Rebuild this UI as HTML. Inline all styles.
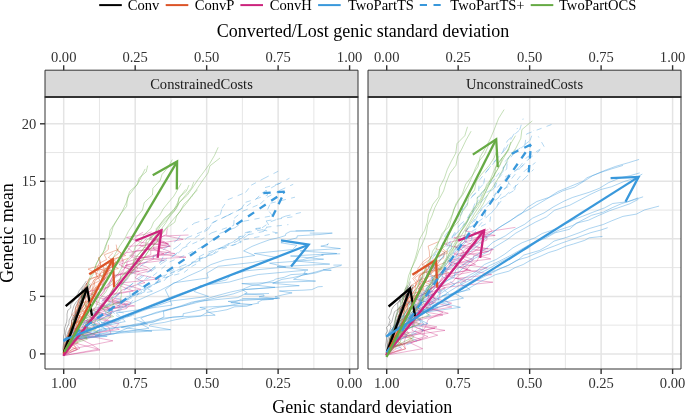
<!DOCTYPE html>
<html><head><meta charset="utf-8"><title>chart</title>
<style>html,body{margin:0;padding:0;background:#fff;}svg{display:block;will-change:transform;font-family:"Liberation Serif",serif;}</style>
</head><body>
<svg width="685" height="414" viewBox="0 0 685 414">
<rect width="685" height="414" fill="#fff"/>
<g>
<rect x="45.0" y="97.0" width="313.0" height="272.0" fill="#fff"/>
<line x1="313.86" x2="313.86" y1="97.0" y2="369.0" stroke="#e6e6e6" stroke-width="1.0"/>
<line x1="242.39" x2="242.39" y1="97.0" y2="369.0" stroke="#e6e6e6" stroke-width="1.0"/>
<line x1="170.91" x2="170.91" y1="97.0" y2="369.0" stroke="#e6e6e6" stroke-width="1.0"/>
<line x1="99.44" x2="99.44" y1="97.0" y2="369.0" stroke="#e6e6e6" stroke-width="1.0"/>
<line x1="45.0" x2="358.0" y1="325.14" y2="325.14" stroke="#e6e6e6" stroke-width="1.0"/>
<line x1="45.0" x2="358.0" y1="267.61" y2="267.61" stroke="#e6e6e6" stroke-width="1.0"/>
<line x1="45.0" x2="358.0" y1="210.09" y2="210.09" stroke="#e6e6e6" stroke-width="1.0"/>
<line x1="45.0" x2="358.0" y1="152.56" y2="152.56" stroke="#e6e6e6" stroke-width="1.0"/>
<line x1="349.60" x2="349.60" y1="97.0" y2="369.0" stroke="#e4e4e4" stroke-width="1.5"/>
<line x1="278.12" x2="278.12" y1="97.0" y2="369.0" stroke="#e4e4e4" stroke-width="1.5"/>
<line x1="206.65" x2="206.65" y1="97.0" y2="369.0" stroke="#e4e4e4" stroke-width="1.5"/>
<line x1="135.18" x2="135.18" y1="97.0" y2="369.0" stroke="#e4e4e4" stroke-width="1.5"/>
<line x1="63.70" x2="63.70" y1="97.0" y2="369.0" stroke="#e4e4e4" stroke-width="1.5"/>
<line x1="45.0" x2="358.0" y1="353.90" y2="353.90" stroke="#e4e4e4" stroke-width="1.5"/>
<line x1="45.0" x2="358.0" y1="296.38" y2="296.38" stroke="#e4e4e4" stroke-width="1.5"/>
<line x1="45.0" x2="358.0" y1="238.85" y2="238.85" stroke="#e4e4e4" stroke-width="1.5"/>
<line x1="45.0" x2="358.0" y1="181.32" y2="181.32" stroke="#e4e4e4" stroke-width="1.5"/>
<line x1="45.0" x2="358.0" y1="123.80" y2="123.80" stroke="#e4e4e4" stroke-width="1.5"/>
<clipPath id="cp0"><rect x="45.0" y="97.0" width="313.0" height="272.0"/></clipPath>
<g clip-path="url(#cp0)">
<path d="M63.7,353.0L62.8,348.9L63.4,344.1L63.7,341.6L63.5,336.6L64.6,332.6L64.5,328.9L65.6,325.1L66.7,321.7L67.1,317.8L67.0,314.2L67.8,310.3L70.8,307.9L70.7,304.8L74.6,300.2L75.5,297.0L77.8,293.9L79.3,290.5L81.2,288.2L84.6,283.6L86.4,280.9" fill="none" stroke="#000000" stroke-opacity="0.42" stroke-width="0.7" stroke-linejoin="round"/>
<path d="M63.7,353.0L64.1,350.5L66.1,346.0L67.2,343.3L68.1,340.1L70.0,337.2L69.9,334.1L70.0,330.3L71.9,327.2L73.3,324.0L75.5,321.6L75.4,317.9L75.8,315.1L78.3,310.8L79.8,308.6L81.0,305.4L82.8,302.1L83.4,298.8L86.4,297.0L88.2,293.9L87.5,290.7" fill="none" stroke="#000000" stroke-opacity="0.42" stroke-width="0.7" stroke-linejoin="round"/>
<path d="M63.7,353.0L65.1,349.7L64.4,346.5L66.4,343.6L66.9,340.6L68.0,336.7L69.5,333.6L70.9,330.8L70.7,328.2L73.1,324.2L73.9,320.5L74.0,317.6L75.6,314.9L76.5,312.7L78.4,308.5L80.7,306.2L81.4,302.2L81.2,298.7L82.2,295.5L83.6,293.8L84.9,290.1" fill="none" stroke="#000000" stroke-opacity="0.42" stroke-width="0.7" stroke-linejoin="round"/>
<path d="M63.7,353.0L65.1,349.8L66.0,346.3L66.7,344.3L67.1,341.3L68.5,337.4L70.0,333.7L71.2,331.5L71.2,327.3L73.0,324.3L74.5,321.3L74.2,317.4L77.4,314.2L78.0,312.0L79.1,309.1L79.6,305.2L83.2,302.8L83.2,299.0L82.1,296.3L86.0,293.1L85.7,290.0" fill="none" stroke="#000000" stroke-opacity="0.42" stroke-width="0.7" stroke-linejoin="round"/>
<path d="M63.7,353.0L65.3,349.2L66.0,346.0L65.8,342.9L68.6,338.7L70.0,336.5L71.7,331.6L71.3,328.7L72.7,325.6L74.6,321.6L76.4,318.7L77.1,314.7L78.8,312.5L81.0,308.7L82.9,304.9L82.3,302.0L83.5,298.9L86.0,294.7L86.4,291.6L90.1,287.3L91.3,285.4" fill="none" stroke="#000000" stroke-opacity="0.42" stroke-width="0.7" stroke-linejoin="round"/>
<path d="M63.7,353.0L64.1,349.1L64.0,344.1L64.4,341.4L65.4,337.3L65.5,333.8L66.1,330.2L67.2,327.2L68.9,323.8L69.1,320.1L71.6,315.3L72.0,312.5L72.9,309.0L74.3,304.9L76.1,302.2L79.1,298.9L78.9,295.1L81.5,292.4L82.2,288.3L84.8,285.7L87.4,282.5" fill="none" stroke="#000000" stroke-opacity="0.42" stroke-width="0.7" stroke-linejoin="round"/>
<path d="M63.7,353.0L63.9,350.0L64.7,344.4L66.2,342.9L66.5,338.5L67.0,334.7L68.1,331.7L70.0,328.0L71.4,324.5L71.6,320.7L73.1,316.3L75.1,312.9L75.1,310.1L75.8,306.7L78.1,301.8L79.4,299.9L81.3,296.3L83.4,292.6L82.2,289.8L87.7,286.3L86.2,283.0" fill="none" stroke="#000000" stroke-opacity="0.42" stroke-width="0.7" stroke-linejoin="round"/>
<path d="M63.7,353.0L64.9,348.6L65.8,345.7L66.2,341.7L66.2,337.9L67.8,336.7L68.8,332.0L70.5,328.6L71.5,325.0L71.8,320.1L75.0,318.8L75.1,314.4L76.4,311.4L78.6,308.0L78.2,304.4L80.9,301.3L81.3,299.0L83.0,293.9L84.5,291.4L85.1,287.4L87.7,285.2" fill="none" stroke="#000000" stroke-opacity="0.42" stroke-width="0.7" stroke-linejoin="round"/>
<path d="M63.7,353.0L65.0,349.1L65.7,346.1L66.6,342.0L68.5,338.0L69.9,335.7L70.3,332.2L72.1,328.7L73.9,324.8L75.7,321.9L75.0,317.9L76.7,315.6L78.6,311.4L78.8,307.3L80.7,304.5L80.6,300.8L84.7,297.1L85.0,293.6L86.9,291.2L87.7,287.5L90.1,283.6" fill="none" stroke="#000000" stroke-opacity="0.42" stroke-width="0.7" stroke-linejoin="round"/>
<path d="M63.7,353.0L65.4,349.7L66.1,346.2L67.2,343.1L66.7,340.3L68.2,336.3L69.5,332.8L70.2,329.9L72.5,326.8L73.3,322.9L73.7,318.8L75.2,315.9L76.5,312.3L78.4,309.0L80.1,305.9L79.2,301.9L82.4,299.5L81.4,295.6L82.5,292.5L84.2,290.2L86.6,286.3" fill="none" stroke="#000000" stroke-opacity="0.42" stroke-width="0.7" stroke-linejoin="round"/>
<path d="M63.6,354.0L64.2,348.4L66.2,342.0L68.0,336.1L70.9,330.2L72.6,324.0L84.6,318.6L75.1,312.9L75.5,307.7L79.4,300.6L81.0,295.4L85.4,290.5L87.2,283.6L88.8,280.1L100.4,275.0L88.0,269.1L100.8,265.1L98.4,258.3L102.9,254.2L108.3,249.5L108.4,244.8" fill="none" stroke="#DC5428" stroke-opacity="0.55" stroke-width="0.7" stroke-linejoin="round"/>
<path d="M63.6,354.0L66.1,347.9L78.3,342.9L68.3,336.3L69.1,330.9L72.2,324.6L85.2,319.7L71.7,314.8L77.3,309.3L78.9,304.2L92.3,299.2L83.7,293.7L84.0,288.3L87.2,283.0L88.7,278.9L110.9,273.0L96.8,268.0L99.1,263.4L106.7,259.5L104.3,254.8L118.4,249.4" fill="none" stroke="#DC5428" stroke-opacity="0.55" stroke-width="0.7" stroke-linejoin="round"/>
<path d="M63.6,354.0L77.2,349.4L67.3,344.9L69.1,338.1L77.6,334.5L73.1,329.4L71.5,323.9L78.6,320.2L79.2,315.7L86.0,310.8L85.0,307.6L86.9,302.1L95.7,297.7L91.7,293.2L94.7,288.9L99.2,285.2L101.9,281.3L107.7,276.4L107.5,272.8L110.2,269.3L105.4,264.6" fill="none" stroke="#DC5428" stroke-opacity="0.55" stroke-width="0.7" stroke-linejoin="round"/>
<path d="M63.6,354.0L65.1,348.9L72.2,342.5L67.2,339.3L72.3,332.9L70.7,327.5L71.9,323.0L75.8,318.6L78.6,312.9L75.5,308.6L81.3,303.3L82.1,298.9L85.0,293.7L89.9,289.3L90.7,285.1L100.0,280.6L95.8,274.4L98.1,270.6L100.5,266.5L100.5,261.6L98.5,257.0" fill="none" stroke="#DC5428" stroke-opacity="0.55" stroke-width="0.7" stroke-linejoin="round"/>
<path d="M63.6,354.0L66.7,347.3L67.2,342.8L69.2,337.9L88.3,332.9L72.5,327.7L76.9,321.3L79.6,317.0L78.2,311.7L83.5,306.6L85.6,301.5L89.6,296.1L94.4,291.6L96.1,286.4L101.6,281.9L106.6,276.5L103.6,272.1L118.4,268.5L107.1,262.7L112.3,258.4L118.7,253.2" fill="none" stroke="#DC5428" stroke-opacity="0.55" stroke-width="0.7" stroke-linejoin="round"/>
<path d="M63.6,354.0L65.5,349.9L66.7,342.4L70.9,338.6L70.3,333.2L69.5,328.3L75.2,323.8L82.3,317.9L76.5,313.8L88.2,309.1L84.3,303.8L82.9,300.0L91.5,294.5L92.8,289.5L93.0,285.1L95.3,280.7L99.1,277.3L101.3,271.5L107.5,268.2L111.0,264.2L128.3,258.3" fill="none" stroke="#DC5428" stroke-opacity="0.55" stroke-width="0.7" stroke-linejoin="round"/>
<path d="M63.6,354.0L63.7,347.5L64.4,343.3L66.4,337.4L69.7,332.1L72.4,326.6L71.6,320.7L74.0,316.0L77.0,310.2L77.6,304.6L78.7,299.4L81.6,295.4L86.3,290.8L91.4,284.5L93.6,280.5L97.4,276.3L94.8,271.0L113.3,266.8L115.8,261.3L108.3,257.4L112.9,252.9" fill="none" stroke="#DC5428" stroke-opacity="0.55" stroke-width="0.7" stroke-linejoin="round"/>
<path d="M63.6,354.0L65.9,347.7L67.3,342.2L67.4,335.7L75.2,330.5L74.8,324.0L75.0,318.3L79.6,313.3L82.5,307.2L85.4,302.2L85.4,296.3L90.1,290.9L94.8,285.8L93.7,280.2L103.2,275.9L104.2,270.7L103.2,264.9L110.5,259.7L125.7,255.5L117.3,250.9L116.2,244.6" fill="none" stroke="#DC5428" stroke-opacity="0.55" stroke-width="0.7" stroke-linejoin="round"/>
<path d="M63.6,354.0L75.9,347.8L70.6,342.3L80.0,336.2L71.1,331.7L75.9,325.6L78.3,319.6L85.9,314.5L81.7,309.1L85.2,303.5L91.2,297.9L92.3,293.2L98.0,287.4L98.6,283.1L105.0,278.8L103.4,272.6L105.7,268.3L116.6,262.3L119.9,257.5L120.8,253.1L116.6,248.3" fill="none" stroke="#DC5428" stroke-opacity="0.55" stroke-width="0.7" stroke-linejoin="round"/>
<path d="M63.6,354.0L71.1,348.1L65.8,342.8L70.3,337.5L71.0,332.4L76.5,327.7L76.2,321.7L79.0,317.3L81.6,312.2L84.7,307.8L88.2,302.9L88.3,297.9L88.9,292.6L95.1,287.8L103.6,283.7L104.3,278.8L99.3,274.1L107.9,269.4L115.2,264.8L112.5,260.9L121.0,255.9" fill="none" stroke="#DC5428" stroke-opacity="0.55" stroke-width="0.7" stroke-linejoin="round"/>
<path d="M63.3,355.6L98.4,349.2L70.2,341.8L99.2,335.7L74.6,328.9L82.2,322.8L110.0,316.1L112.4,309.3L95.9,304.0L97.7,297.8L104.1,292.4L105.6,286.9L109.6,282.1L113.3,275.9L139.4,271.5L121.4,266.8L123.5,261.0L121.7,256.8L126.2,252.7L150.0,249.4L139.4,245.2L143.9,241.3L146.4,238.6" fill="none" stroke="#CC247D" stroke-opacity="0.5" stroke-width="0.7" stroke-linejoin="round"/>
<path d="M63.3,355.6L67.7,348.2L70.9,341.6L77.1,333.2L82.5,327.0L84.6,321.1L111.6,313.4L106.3,306.7L94.2,300.4L96.9,293.3L106.9,287.7L109.1,283.1L116.3,276.9L123.1,271.9L126.0,265.1L164.3,260.3L131.4,255.6L136.4,251.0L142.0,245.7L164.7,241.8L150.3,237.5L153.2,233.8L156.6,231.9" fill="none" stroke="#CC247D" stroke-opacity="0.5" stroke-width="0.7" stroke-linejoin="round"/>
<path d="M63.3,355.6L100.0,350.0L91.2,344.2L76.9,337.5L82.4,332.6L86.4,325.8L91.3,321.1L96.1,315.2L102.1,309.6L127.2,305.8L112.2,301.1L117.6,295.6L121.1,290.5L131.3,286.3L145.0,282.6L135.1,277.8L138.8,273.5L151.5,270.4L146.5,267.0L134.8,263.2L143.6,259.6L186.0,257.2L161.2,254.5" fill="none" stroke="#CC247D" stroke-opacity="0.5" stroke-width="0.7" stroke-linejoin="round"/>
<path d="M63.3,355.6L80.0,348.4L73.5,342.1L78.5,336.3L113.3,329.3L118.9,323.6L89.4,317.1L97.9,310.7L134.6,305.9L102.2,300.2L109.8,294.3L140.9,289.3L119.8,283.1L159.1,278.9L130.3,272.7L135.0,268.0L139.9,264.2L153.8,259.1L153.1,255.3L170.5,251.8L159.0,247.4L160.1,244.2L161.0,242.3" fill="none" stroke="#CC247D" stroke-opacity="0.5" stroke-width="0.7" stroke-linejoin="round"/>
<path d="M63.3,355.6L66.3,347.8L71.9,340.4L94.9,334.9L78.3,328.1L96.3,321.3L86.7,314.3L93.1,308.7L120.6,302.0L100.5,295.7L104.9,289.3L113.4,283.4L113.8,277.7L119.6,272.9L126.9,266.1L126.9,261.6L132.7,256.3L135.1,251.0L170.6,246.2L141.8,242.5L126.4,237.4L144.5,234.4L151.7,231.8" fill="none" stroke="#CC247D" stroke-opacity="0.5" stroke-width="0.7" stroke-linejoin="round"/>
<path d="M63.3,355.6L68.8,347.8L74.3,341.5L78.1,335.6L87.2,328.2L111.8,321.8L94.5,315.5L126.6,308.5L131.2,302.7L108.5,296.6L111.4,291.1L119.1,285.7L127.3,279.2L130.3,274.3L133.2,269.9L140.3,263.5L138.8,259.5L150.9,254.5L150.7,250.3L169.8,246.2L165.1,242.4L183.2,239.3L166.2,235.8" fill="none" stroke="#CC247D" stroke-opacity="0.5" stroke-width="0.7" stroke-linejoin="round"/>
<path d="M63.3,355.6L67.3,348.2L73.0,340.7L79.5,333.1L84.7,326.1L87.3,319.8L96.9,313.5L120.3,306.6L105.5,299.2L112.1,293.4L113.3,287.6L116.4,281.2L128.1,274.7L129.2,269.1L119.0,264.5L139.1,258.2L164.0,253.9L153.7,249.0L153.8,244.3L155.5,239.8L166.7,234.4L166.9,230.6L167.7,228.3" fill="none" stroke="#CC247D" stroke-opacity="0.5" stroke-width="0.7" stroke-linejoin="round"/>
<path d="M63.3,355.6L68.2,348.0L71.2,341.2L84.8,335.1L119.3,329.3L103.6,322.7L111.4,316.2L91.3,310.2L128.7,304.0L99.3,297.8L87.0,292.0L108.6,287.0L110.1,281.7L113.1,275.4L147.4,269.7L125.1,265.6L140.8,260.8L129.7,256.0L133.2,252.3L126.1,246.5L167.7,243.5L149.5,239.3L150.5,236.4" fill="none" stroke="#CC247D" stroke-opacity="0.5" stroke-width="0.7" stroke-linejoin="round"/>
<path d="M63.3,355.6L77.6,349.3L71.0,341.0L111.0,333.7L108.8,327.0L83.1,319.7L89.0,313.6L86.1,307.2L92.5,301.4L98.6,295.1L102.3,288.6L102.3,283.1L105.4,277.8L107.4,271.5L112.2,265.8L122.8,261.3L120.5,256.6L126.8,251.9L131.0,246.2L136.2,241.0L134.9,238.6L138.8,234.5L143.1,232.3" fill="none" stroke="#CC247D" stroke-opacity="0.5" stroke-width="0.7" stroke-linejoin="round"/>
<path d="M63.3,355.6L72.5,348.9L112.9,340.8L77.2,333.8L87.5,329.0L87.4,321.8L94.0,315.0L98.2,309.3L103.0,301.9L107.3,295.7L133.3,291.1L116.8,284.4L120.3,279.4L120.7,273.8L138.0,268.6L132.7,263.4L136.2,258.7L174.9,253.5L145.7,249.3L169.0,244.1L157.0,240.9L163.2,236.0L188.5,235.0" fill="none" stroke="#CC247D" stroke-opacity="0.5" stroke-width="0.7" stroke-linejoin="round"/>
<path d="M63.7,340.0L106.6,330.1L97.1,321.4L113.6,312.0L130.0,304.0L145.1,297.1L160.2,290.4L174.2,283.2L188.6,275.9L200.8,270.5L210.9,264.6L224.4,260.0L254.7,255.5L243.6,250.9L252.0,246.4L260.3,243.1L269.7,239.7L278.8,237.7L285.5,235.5L285.8,233.7L290.6,231.3L314.3,230.7L295.6,230.8" fill="none" stroke="#3998DB" stroke-opacity="0.6" stroke-width="0.7" stroke-linejoin="round"/>
<path d="M63.7,340.0L81.7,330.7L125.3,321.5L116.3,312.9L172.0,305.1L169.5,298.4L165.3,289.7L173.9,282.8L208.2,277.9L206.9,273.2L218.4,266.3L252.4,262.5L277.9,257.7L254.3,253.5L292.7,249.5L296.8,245.3L280.9,242.8L287.4,240.3L296.9,237.9L297.3,235.8L320.0,234.5L332.3,233.1L309.8,233.1" fill="none" stroke="#3998DB" stroke-opacity="0.6" stroke-width="0.7" stroke-linejoin="round"/>
<path d="M63.7,340.0L83.1,331.2L110.8,323.8L121.8,316.3L138.5,310.2L155.7,303.1L172.4,296.5L191.4,289.7L202.0,285.7L226.6,279.9L230.9,274.9L246.2,270.8L285.8,267.0L269.6,263.2L323.6,259.2L290.5,256.0L336.9,253.5L300.2,250.9L340.5,248.6L320.8,246.2L327.8,244.7L326.9,244.6L328.9,243.6" fill="none" stroke="#3998DB" stroke-opacity="0.6" stroke-width="0.7" stroke-linejoin="round"/>
<path d="M63.7,340.0L83.9,332.9L101.6,325.9L121.4,319.3L138.3,312.4L154.3,306.7L170.9,301.0L208.5,296.4L194.2,291.5L199.7,285.8L229.4,282.0L244.9,277.6L258.3,274.5L308.0,270.0L277.0,266.7L329.7,264.1L293.4,260.8L302.9,259.7L309.5,257.8L317.3,256.2L323.4,255.2L321.5,254.5L340.1,253.8" fill="none" stroke="#3998DB" stroke-opacity="0.6" stroke-width="0.7" stroke-linejoin="round"/>
<path d="M63.7,340.0L86.1,333.1L119.5,327.2L153.3,322.3L164.0,316.9L163.4,311.3L181.4,306.5L196.5,301.5L237.8,297.6L247.2,292.8L242.5,289.7L299.3,285.7L272.7,283.3L281.9,279.4L292.9,277.6L307.0,274.1L314.0,272.4L322.4,270.1L327.7,268.9L336.5,266.7L340.9,265.6L341.6,265.0L333.4,265.1" fill="none" stroke="#3998DB" stroke-opacity="0.6" stroke-width="0.7" stroke-linejoin="round"/>
<path d="M63.7,340.0L114.0,333.9L127.7,328.0L145.6,323.2L140.8,318.1L155.8,312.4L171.9,308.4L187.6,305.0L202.9,300.9L217.6,297.6L233.5,293.8L245.6,289.5L275.0,287.3L241.8,283.6L315.6,281.1L293.5,279.3L297.8,277.3L303.0,274.8L308.3,274.2L316.0,272.9L323.4,270.4L331.3,270.3L323.1,269.4" fill="none" stroke="#3998DB" stroke-opacity="0.6" stroke-width="0.7" stroke-linejoin="round"/>
<path d="M63.7,340.0L101.6,336.1L124.6,331.7L149.0,328.2L140.5,323.8L153.9,321.5L172.9,317.1L215.2,315.2L206.2,310.8L213.1,308.3L227.9,305.9L240.2,303.2L228.1,301.4L279.7,298.2L274.9,296.9L282.5,294.9L292.1,292.9L279.3,291.0L303.1,290.2L311.9,289.6L315.1,288.1L318.0,286.8L322.7,286.5" fill="none" stroke="#3998DB" stroke-opacity="0.6" stroke-width="0.7" stroke-linejoin="round"/>
<path d="M63.7,340.0L91.5,334.4L100.6,329.1L147.6,324.1L133.8,318.9L150.3,314.8L165.3,310.6L179.9,306.2L191.3,302.2L203.8,299.7L216.8,295.7L230.7,292.0L241.9,289.6L251.0,285.8L259.9,284.2L273.4,280.5L275.9,279.0L284.2,277.3L290.9,274.6L307.3,273.7L303.7,273.3L305.2,272.3L304.9,270.8" fill="none" stroke="#3998DB" stroke-opacity="0.6" stroke-width="0.7" stroke-linejoin="round"/>
<path d="M63.7,340.0L79.2,337.2L93.4,334.6L152.0,331.1L121.2,327.4L135.0,324.2L150.2,321.4L161.8,318.3L183.1,316.2L183.2,313.7L191.9,311.9L205.7,308.8L199.8,307.4L252.2,304.6L230.8,302.7L237.0,301.1L241.9,299.1L277.5,298.5L259.0,296.8L264.1,295.9L263.9,294.9L244.6,294.1L269.0,293.5" fill="none" stroke="#3998DB" stroke-opacity="0.6" stroke-width="0.7" stroke-linejoin="round"/>
<path d="M63.7,340.0L107.2,336.3L95.1,335.7L109.3,331.8L170.6,329.7L149.1,325.9L150.4,324.5L164.4,322.4L175.2,319.8L187.4,317.6L200.5,316.2L206.6,312.7L217.5,311.4L227.0,309.7L234.7,306.8L246.6,306.3L253.0,304.1L258.7,303.1L257.7,302.2L262.1,300.1L267.3,299.7L273.7,299.2L242.5,298.7" fill="none" stroke="#3998DB" stroke-opacity="0.6" stroke-width="0.7" stroke-linejoin="round"/>
<path d="M63.7,341.0L72.1,330.6M72.1,330.6L82.8,320.1M82.8,320.1L96.5,310.9M96.5,310.9L101.3,301.8M101.3,301.8L112.0,291.9M112.0,291.9L124.3,282.3M124.3,282.3L131.6,274.1M131.6,274.1L143.2,264.1M143.2,264.1L154.7,256.1M154.7,256.1L165.3,248.1M165.3,248.1L177.2,240.0M177.2,240.0L183.4,231.2M183.4,231.2L194.3,223.2M194.3,223.2L220.3,214.7M220.3,214.7L222.0,208.4M222.0,208.4L227.8,199.7M227.8,199.7L245.5,192.5M245.5,192.5L251.2,185.2M251.2,185.2L264.0,178.4M264.0,178.4L278.3,171.2" fill="none" stroke="#3998DB" stroke-opacity="0.55" stroke-width="0.7" stroke-dasharray="5.3 5.3" stroke-linejoin="round"/>
<path d="M63.7,341.0L76.0,330.7M76.0,330.7L83.8,322.6M83.8,322.6L94.7,312.9M94.7,312.9L108.0,305.4M108.0,305.4L116.1,295.6M116.1,295.6L129.0,286.1M129.0,286.1L140.1,278.7M140.1,278.7L151.1,269.8M151.1,269.8L162.3,260.9M162.3,260.9L178.2,253.1M178.2,253.1L186.7,244.9M186.7,244.9L195.3,237.5M195.3,237.5L208.4,229.2M208.4,229.2L212.7,222.4M212.7,222.4L228.5,215.0M228.5,215.0L246.7,206.1M246.7,206.1L255.5,199.6M255.5,199.6L261.9,193.1M261.9,193.1L276.9,184.7M276.9,184.7L289.5,178.2" fill="none" stroke="#3998DB" stroke-opacity="0.55" stroke-width="0.7" stroke-dasharray="5.3 5.3" stroke-linejoin="round"/>
<path d="M63.7,341.0L72.7,331.1M72.7,331.1L85.0,323.0M85.0,323.0L114.6,313.7M114.6,313.7L106.5,305.2M106.5,305.2L130.3,297.3M130.3,297.3L129.4,288.6M129.4,288.6L144.5,280.0M144.5,280.0L151.7,271.0M151.7,271.0L162.4,263.0M162.4,263.0L173.5,255.9M173.5,255.9L182.7,248.2M182.7,248.2L199.9,240.5M199.9,240.5L211.8,232.8M211.8,232.8L233.7,225.4M233.7,225.4L234.2,218.2M234.2,218.2L242.8,211.2M242.8,211.2L260.3,204.0M260.3,204.0L266.9,197.4M266.9,197.4L280.5,190.0M280.5,190.0L293.2,184.3" fill="none" stroke="#3998DB" stroke-opacity="0.55" stroke-width="0.7" stroke-dasharray="5.3 5.3" stroke-linejoin="round"/>
<path d="M63.7,341.0L73.3,331.8M73.3,331.8L102.6,324.2M102.6,324.2L97.4,316.0M97.4,316.0L111.9,308.0M111.9,308.0L115.8,299.1M115.8,299.1L152.7,291.2M152.7,291.2L136.9,284.1M136.9,284.1L153.1,275.7M153.1,275.7L161.5,268.9M161.5,268.9L169.7,261.9M169.7,261.9L188.2,253.7M188.2,253.7L200.1,247.8M200.1,247.8L211.4,240.8M211.4,240.8L220.0,233.3M220.0,233.3L234.9,227.8M234.9,227.8L244.0,221.2M244.0,221.2L272.5,215.7M272.5,215.7L267.6,209.5M267.6,209.5L270.5,203.2M270.5,203.2L295.0,197.2" fill="none" stroke="#3998DB" stroke-opacity="0.55" stroke-width="0.7" stroke-dasharray="5.3 5.3" stroke-linejoin="round"/>
<path d="M63.7,341.0L77.4,334.3M77.4,334.3L90.7,325.4M90.7,325.4L120.7,318.1M120.7,318.1L107.9,311.0M107.9,311.0L129.4,304.1M129.4,304.1L135.5,297.3M135.5,297.3L141.6,289.9M141.6,289.9L156.6,283.0M156.6,283.0L160.7,276.9M160.7,276.9L176.5,270.5M176.5,270.5L195.4,262.4M195.4,262.4L205.7,257.4M205.7,257.4L213.6,250.7M213.6,250.7L224.5,245.8M224.5,245.8L236.3,239.6M236.3,239.6L245.3,232.7M245.3,232.7L262.0,227.8M262.0,227.8L271.0,221.6M271.0,221.6L285.4,216.2M285.4,216.2L302.3,212.2" fill="none" stroke="#3998DB" stroke-opacity="0.55" stroke-width="0.7" stroke-dasharray="5.3 5.3" stroke-linejoin="round"/>
<path d="M63.7,341.0L76.6,334.3M76.6,334.3L93.7,325.7M93.7,325.7L95.5,319.5M95.5,319.5L107.9,312.1M107.9,312.1L118.7,305.4M118.7,305.4L129.0,297.9M129.0,297.9L136.9,291.6M136.9,291.6L154.2,284.7M154.2,284.7L163.3,277.5M163.3,277.5L169.3,271.8M169.3,271.8L181.3,266.1M181.3,266.1L198.5,259.9M198.5,259.9L209.0,253.8M209.0,253.8L220.3,248.3M220.3,248.3L241.0,243.0M241.0,243.0L238.0,237.1M238.0,237.1L263.6,231.4M263.6,231.4L268.7,225.0M268.7,225.0L266.2,220.9M266.2,220.9L297.0,216.1" fill="none" stroke="#3998DB" stroke-opacity="0.55" stroke-width="0.7" stroke-dasharray="5.3 5.3" stroke-linejoin="round"/>
<path d="M63.7,341.0L101.6,334.1M101.6,334.1L82.6,327.4M82.6,327.4L120.7,320.9M120.7,320.9L106.5,314.5M106.5,314.5L126.4,308.0M126.4,308.0L123.9,301.4M123.9,301.4L133.7,295.5M133.7,295.5L146.9,289.0M146.9,289.0L156.5,283.3M156.5,283.3L168.2,276.7M168.2,276.7L178.9,271.2M178.9,271.2L189.1,265.5M189.1,265.5L196.2,259.4M196.2,259.4L213.8,253.9M213.8,253.9L221.9,249.2M221.9,249.2L237.4,243.6M237.4,243.6L243.8,239.8M243.8,239.8L277.6,232.9M277.6,232.9L255.6,228.5M255.6,228.5L288.4,224.6" fill="none" stroke="#3998DB" stroke-opacity="0.55" stroke-width="0.7" stroke-dasharray="5.3 5.3" stroke-linejoin="round"/>
<path d="M63.7,341.0L73.7,334.3M73.7,334.3L80.8,327.9M80.8,327.9L106.2,321.9M106.2,321.9L134.1,315.2M134.1,315.2L108.8,309.7M108.8,309.7L121.5,303.4M121.5,303.4L130.8,296.8M130.8,296.8L144.7,291.9M144.7,291.9L145.5,285.7M145.5,285.7L164.1,280.8M164.1,280.8L169.9,273.9M169.9,273.9L181.6,269.1M181.6,269.1L190.9,264.0M190.9,264.0L200.6,258.9M200.6,258.9L212.6,254.6M212.6,254.6L218.1,249.1M218.1,249.1L229.4,243.6M229.4,243.6L242.2,237.9M242.2,237.9L246.7,232.8M246.7,232.8L266.6,228.8" fill="none" stroke="#3998DB" stroke-opacity="0.55" stroke-width="0.7" stroke-dasharray="5.3 5.3" stroke-linejoin="round"/>
<path d="M63.7,341.0L76.0,334.6M76.0,334.6L105.7,328.8M105.7,328.8L90.7,323.2M90.7,323.2L98.0,316.2M98.0,316.2L109.2,310.2M109.2,310.2L116.7,303.9M116.7,303.9L127.6,300.0M127.6,300.0L137.7,294.4M137.7,294.4L146.1,288.2M146.1,288.2L155.8,282.2M155.8,282.2L163.9,277.8M163.9,277.8L184.0,272.5M184.0,272.5L191.5,266.6M191.5,266.6L200.0,261.8M200.0,261.8L199.3,256.5M199.3,256.5L208.4,252.0M208.4,252.0L224.5,246.8M224.5,246.8L234.0,242.8M234.0,242.8L245.1,237.1M245.1,237.1L251.1,232.6" fill="none" stroke="#3998DB" stroke-opacity="0.55" stroke-width="0.7" stroke-dasharray="5.3 5.3" stroke-linejoin="round"/>
<path d="M63.7,341.0L74.7,331.1M74.7,331.1L86.2,322.4M86.2,322.4L105.9,312.9M105.9,312.9L101.2,304.9M101.2,304.9L115.0,296.5M115.0,296.5L129.0,287.0M129.0,287.0L137.7,278.3M137.7,278.3L151.2,269.9M151.2,269.9L160.8,261.5M160.8,261.5L164.1,254.7M164.1,254.7L177.1,246.9M177.1,246.9L187.2,237.7M187.2,237.7L204.5,230.7M204.5,230.7L211.6,223.4M211.6,223.4L226.7,216.0M226.7,216.0L241.2,208.8M241.2,208.8L245.6,202.3M245.6,202.3L267.6,195.1M267.6,195.1L265.0,187.6M265.0,187.6L284.1,182.2" fill="none" stroke="#3998DB" stroke-opacity="0.55" stroke-width="0.7" stroke-dasharray="5.3 5.3" stroke-linejoin="round"/>
<path d="M64.3,351.8L67.1,344.8L70.7,336.2L71.1,328.8L73.7,321.7L76.9,314.3L86.4,307.0L82.2,299.4L85.5,292.0L88.0,284.8L89.9,277.0L94.2,270.2L97.0,262.7L100.8,255.6L105.0,249.5L107.4,241.4L111.0,234.7L113.0,227.1L116.5,220.9L121.5,212.9L126.7,206.3L127.4,198.3L129.7,191.4L137.0,184.9L139.2,177.9L146.2,171.9L147.7,165.6" fill="none" stroke="#66AA44" stroke-opacity="0.55" stroke-width="0.7" stroke-linejoin="round"/>
<path d="M64.3,351.8L66.0,344.2L68.5,337.4L71.2,330.2L73.6,321.8L77.5,315.7L78.9,308.0L81.5,301.6L83.1,294.2L87.1,287.7L89.8,280.2L93.8,272.9L96.0,264.3L99.0,258.7L103.3,252.5L105.3,246.0L108.8,238.2L110.2,230.3L114.2,224.0L118.8,216.9L122.8,210.0L126.2,202.8L128.9,195.5L133.3,189.6L138.2,183.1L141.6,175.8L145.2,168.9" fill="none" stroke="#66AA44" stroke-opacity="0.55" stroke-width="0.7" stroke-linejoin="round"/>
<path d="M64.3,351.8L68.0,345.6L87.0,337.3L76.1,329.3L78.9,320.9L99.6,313.0L85.8,306.4L90.1,298.3L94.3,291.8L100.4,283.5L102.4,275.7L106.3,269.4L111.2,261.4L115.5,253.5L119.8,245.9L124.7,238.8L128.3,231.5L133.0,224.3L136.7,216.9L142.5,210.0L144.2,202.6L152.4,195.0L152.9,188.3L160.3,180.3L162.0,174.5L168.4,167.0L172.3,159.5" fill="none" stroke="#66AA44" stroke-opacity="0.55" stroke-width="0.7" stroke-linejoin="round"/>
<path d="M64.3,351.8L69.8,344.1L76.6,336.7L96.1,329.0L89.6,321.3L94.9,314.2L100.9,306.0L107.7,297.8L115.1,289.8L121.3,281.0L127.6,274.6L132.7,267.7L137.9,259.4L143.5,251.4L150.8,242.4L156.0,234.6L160.1,226.5L167.4,219.4L174.2,211.5L178.4,203.3L187.3,195.2L193.2,186.8L197.6,180.1L203.8,171.9L209.6,163.8L214.5,155.4L218.2,147.3" fill="none" stroke="#66AA44" stroke-opacity="0.55" stroke-width="0.7" stroke-linejoin="round"/>
<path d="M64.3,351.8L70.7,344.0L77.2,337.2L82.9,329.8L88.7,322.3L113.6,316.6L101.8,308.6L120.5,302.0L121.4,294.3L120.7,287.1L126.1,278.8L131.8,271.6L137.4,263.4L144.7,257.1L149.4,249.7L155.7,242.5L160.9,234.0L167.0,226.9L172.7,220.0L180.3,211.3L183.9,204.2L191.4,197.2L197.1,188.7L201.7,181.8L208.0,173.0L209.9,165.9L220.0,158.0" fill="none" stroke="#66AA44" stroke-opacity="0.55" stroke-width="0.7" stroke-linejoin="round"/>
<path d="M64.3,351.8L69.9,344.8L87.4,339.2L79.0,332.6L84.7,326.6L90.3,319.9L95.9,313.3L102.3,307.5L106.3,300.0L110.8,293.5L116.1,287.8L121.3,280.0L127.8,274.1L131.6,268.1L137.8,261.4L140.9,255.0L147.0,248.7L153.2,242.3L157.7,234.5L162.0,228.0L166.0,222.6L170.5,214.4L176.2,208.9L179.6,202.2L185.9,194.8L191.6,187.8L193.8,181.9" fill="none" stroke="#66AA44" stroke-opacity="0.55" stroke-width="0.7" stroke-linejoin="round"/>
<path d="M64.3,351.8L69.7,345.2L74.8,339.2L79.3,334.3L84.8,327.5L90.9,321.2L96.3,315.3L101.3,308.9L113.2,304.4L112.0,297.4L117.4,291.5L120.9,285.4L125.8,278.5L132.3,272.5L137.0,265.9L143.1,259.9L146.2,254.0L151.4,247.6L158.0,241.0L161.9,234.1L166.9,227.9L174.8,222.2L176.6,216.1L181.7,208.9L186.7,203.1L191.9,195.4L197.6,189.9" fill="none" stroke="#66AA44" stroke-opacity="0.55" stroke-width="0.7" stroke-linejoin="round"/>
<path d="M64.3,351.8L68.8,345.4L74.1,339.4L83.7,333.6L84.1,327.1L87.5,321.3L97.2,314.8L99.6,309.1L109.2,302.8L108.6,296.4L112.4,289.8L116.9,284.0L120.8,277.0L126.6,271.3L133.0,265.5L133.9,258.6L141.3,251.6L145.3,246.5L146.4,240.4L155.6,234.0L156.4,228.4L162.8,221.8L168.5,215.6L174.1,209.4L177.7,202.5L180.1,196.7L185.6,189.5" fill="none" stroke="#66AA44" stroke-opacity="0.55" stroke-width="0.7" stroke-linejoin="round"/>
<path d="M64.3,351.8L70.2,344.6L75.0,339.6L98.2,332.0L84.5,326.4L89.4,320.6L94.7,313.9L99.8,308.1L105.4,301.7L109.4,295.7L113.0,288.6L118.9,281.8L122.2,276.1L129.5,270.3L133.7,262.8L137.2,256.0L142.8,249.3L146.8,243.8L151.9,237.0L156.1,231.0L160.9,223.2L164.4,218.5L172.9,210.5L177.7,205.2L178.8,197.7L186.2,191.4L189.0,185.0" fill="none" stroke="#66AA44" stroke-opacity="0.55" stroke-width="0.7" stroke-linejoin="round"/>
<path d="M64.3,351.8L68.8,344.7L73.2,338.0L76.7,331.3L99.3,326.4L86.2,318.5L90.7,313.4L96.1,306.3L99.4,299.2L105.5,292.4L108.6,286.8L113.2,278.6L118.1,273.9L122.2,266.9L126.4,260.6L132.8,253.7L135.4,246.8L141.5,240.9L143.9,234.9L151.0,228.4L153.6,222.2L159.7,215.4L163.2,209.0L168.8,202.0L173.7,196.3L177.2,190.3L181.2,183.4" fill="none" stroke="#66AA44" stroke-opacity="0.55" stroke-width="0.7" stroke-linejoin="round"/>
<path d="M63.7,353.0 L87.1,288.1" fill="none" stroke="#000000" stroke-width="2.3" stroke-linecap="butt" stroke-linejoin="round"/>
<path d="M92.0,315.7 L87.1,288.1 L65.7,306.2" fill="none" stroke="#000000" stroke-width="2.3" stroke-linejoin="miter"/>
<path d="M63.6,354.0 L112.8,259.2" fill="none" stroke="#DC5428" stroke-width="2.3" stroke-linecap="butt" stroke-linejoin="round"/>
<path d="M114.1,287.2 L112.8,259.2 L89.2,274.3" fill="none" stroke="#DC5428" stroke-width="2.3" stroke-linejoin="miter"/>
<path d="M63.3,355.6 L161.5,230.2" fill="none" stroke="#CC247D" stroke-width="2.3" stroke-linecap="butt" stroke-linejoin="round"/>
<path d="M157.6,257.9 L161.5,230.2 L135.5,240.7" fill="none" stroke="#CC247D" stroke-width="2.3" stroke-linejoin="miter"/>
<path d="M63.7,340.0 L308.7,244.7" fill="none" stroke="#3998DB" stroke-width="2.3" stroke-linecap="butt" stroke-linejoin="round"/>
<path d="M291.1,266.5 L308.7,244.7 L281.0,240.4" fill="none" stroke="#3998DB" stroke-width="2.3" stroke-linejoin="miter"/>
<path d="M63.7,341.0 L284.7,191.7" fill="none" stroke="#3998DB" stroke-width="2.3" stroke-dasharray="7.4 6.6" stroke-dashoffset="1.6" stroke-linecap="butt" stroke-linejoin="round"/>
<path d="M272.4,216.8 L284.7,191.7 L256.7,193.6" fill="none" stroke="#3998DB" stroke-width="2.3" stroke-dasharray="7.4 6.6" stroke-linejoin="miter"/>
<path d="M64.3,351.8 L177.1,161.6" fill="none" stroke="#66AA44" stroke-width="2.3" stroke-linecap="butt" stroke-linejoin="round"/>
<path d="M176.8,189.6 L177.1,161.6 L152.7,175.3" fill="none" stroke="#66AA44" stroke-width="2.3" stroke-linejoin="miter"/>
</g>
<rect x="45.0" y="70.2" width="313.0" height="26.8" fill="#d9d9d9"/>
<path d="M45.0,369.0 L45.0,70.2 L358.0,70.2 L358.0,369.0 Z" fill="none" stroke="#333" stroke-width="1.0"/>
<line x1="44.7" x2="358.3" y1="97.0" y2="97.0" stroke="#333" stroke-width="1.8"/>
<line x1="63.70" x2="63.70" y1="369.0" y2="374.0" stroke="#333" stroke-width="1.4"/>
<line x1="63.70" x2="63.70" y1="70.2" y2="65.2" stroke="#333" stroke-width="1.4"/>
<text x="63.70" y="387.8" font-family="Liberation Serif, serif" font-size="14.55" fill="#333" text-anchor="middle">1.00</text>
<text x="63.70" y="61.8" font-family="Liberation Serif, serif" font-size="14.55" fill="#333" text-anchor="middle">0.00</text>
<line x1="135.18" x2="135.18" y1="369.0" y2="374.0" stroke="#333" stroke-width="1.4"/>
<line x1="135.18" x2="135.18" y1="70.2" y2="65.2" stroke="#333" stroke-width="1.4"/>
<text x="135.18" y="387.8" font-family="Liberation Serif, serif" font-size="14.55" fill="#333" text-anchor="middle">0.75</text>
<text x="135.18" y="61.8" font-family="Liberation Serif, serif" font-size="14.55" fill="#333" text-anchor="middle">0.25</text>
<line x1="206.65" x2="206.65" y1="369.0" y2="374.0" stroke="#333" stroke-width="1.4"/>
<line x1="206.65" x2="206.65" y1="70.2" y2="65.2" stroke="#333" stroke-width="1.4"/>
<text x="206.65" y="387.8" font-family="Liberation Serif, serif" font-size="14.55" fill="#333" text-anchor="middle">0.50</text>
<text x="206.65" y="61.8" font-family="Liberation Serif, serif" font-size="14.55" fill="#333" text-anchor="middle">0.50</text>
<line x1="278.12" x2="278.12" y1="369.0" y2="374.0" stroke="#333" stroke-width="1.4"/>
<line x1="278.12" x2="278.12" y1="70.2" y2="65.2" stroke="#333" stroke-width="1.4"/>
<text x="278.12" y="387.8" font-family="Liberation Serif, serif" font-size="14.55" fill="#333" text-anchor="middle">0.25</text>
<text x="278.12" y="61.8" font-family="Liberation Serif, serif" font-size="14.55" fill="#333" text-anchor="middle">0.75</text>
<line x1="349.60" x2="349.60" y1="369.0" y2="374.0" stroke="#333" stroke-width="1.4"/>
<line x1="349.60" x2="349.60" y1="70.2" y2="65.2" stroke="#333" stroke-width="1.4"/>
<text x="349.60" y="387.8" font-family="Liberation Serif, serif" font-size="14.55" fill="#333" text-anchor="middle">0.00</text>
<text x="349.60" y="61.8" font-family="Liberation Serif, serif" font-size="14.55" fill="#333" text-anchor="middle">1.00</text>
<text x="201.5" y="88.6" font-family="Liberation Serif, serif" font-size="14.55" fill="#1a1a1a" text-anchor="middle">ConstrainedCosts</text>
</g>
<g>
<rect x="368.0" y="97.0" width="313.0" height="272.0" fill="#fff"/>
<line x1="636.86" x2="636.86" y1="97.0" y2="369.0" stroke="#e6e6e6" stroke-width="1.0"/>
<line x1="565.39" x2="565.39" y1="97.0" y2="369.0" stroke="#e6e6e6" stroke-width="1.0"/>
<line x1="493.91" x2="493.91" y1="97.0" y2="369.0" stroke="#e6e6e6" stroke-width="1.0"/>
<line x1="422.44" x2="422.44" y1="97.0" y2="369.0" stroke="#e6e6e6" stroke-width="1.0"/>
<line x1="368.0" x2="681.0" y1="325.14" y2="325.14" stroke="#e6e6e6" stroke-width="1.0"/>
<line x1="368.0" x2="681.0" y1="267.61" y2="267.61" stroke="#e6e6e6" stroke-width="1.0"/>
<line x1="368.0" x2="681.0" y1="210.09" y2="210.09" stroke="#e6e6e6" stroke-width="1.0"/>
<line x1="368.0" x2="681.0" y1="152.56" y2="152.56" stroke="#e6e6e6" stroke-width="1.0"/>
<line x1="672.60" x2="672.60" y1="97.0" y2="369.0" stroke="#e4e4e4" stroke-width="1.5"/>
<line x1="601.12" x2="601.12" y1="97.0" y2="369.0" stroke="#e4e4e4" stroke-width="1.5"/>
<line x1="529.65" x2="529.65" y1="97.0" y2="369.0" stroke="#e4e4e4" stroke-width="1.5"/>
<line x1="458.17" x2="458.17" y1="97.0" y2="369.0" stroke="#e4e4e4" stroke-width="1.5"/>
<line x1="386.70" x2="386.70" y1="97.0" y2="369.0" stroke="#e4e4e4" stroke-width="1.5"/>
<line x1="368.0" x2="681.0" y1="353.90" y2="353.90" stroke="#e4e4e4" stroke-width="1.5"/>
<line x1="368.0" x2="681.0" y1="296.38" y2="296.38" stroke="#e4e4e4" stroke-width="1.5"/>
<line x1="368.0" x2="681.0" y1="238.85" y2="238.85" stroke="#e4e4e4" stroke-width="1.5"/>
<line x1="368.0" x2="681.0" y1="181.32" y2="181.32" stroke="#e4e4e4" stroke-width="1.5"/>
<line x1="368.0" x2="681.0" y1="123.80" y2="123.80" stroke="#e4e4e4" stroke-width="1.5"/>
<clipPath id="cp1"><rect x="368.0" y="97.0" width="313.0" height="272.0"/></clipPath>
<g clip-path="url(#cp1)">
<path d="M386.7,353.0L387.7,350.3L389.0,346.1L390.3,343.6L390.1,340.5L391.7,335.9L392.9,334.7L394.4,330.2L395.1,327.9L396.7,324.0L397.4,321.5L398.3,318.5L398.5,315.3L401.0,312.7L403.5,309.4L403.1,305.9L405.0,303.5L406.2,300.8L408.2,298.2L410.7,293.6L409.2,290.4" fill="none" stroke="#000000" stroke-opacity="0.42" stroke-width="0.7" stroke-linejoin="round"/>
<path d="M386.7,353.0L387.9,349.6L389.3,345.9L390.2,341.9L390.4,339.6L392.6,335.6L393.9,332.0L395.0,328.6L395.3,326.2L397.4,322.3L399.0,318.3L400.3,315.5L401.0,310.7L403.7,308.9L403.8,304.7L404.9,300.5L406.4,297.8L406.0,295.2L410.2,291.1L411.8,288.6L413.8,285.1" fill="none" stroke="#000000" stroke-opacity="0.42" stroke-width="0.7" stroke-linejoin="round"/>
<path d="M386.7,353.0L387.4,350.1L389.1,345.6L390.6,343.2L390.3,339.9L391.6,337.8L392.3,333.3L393.8,329.9L396.1,326.6L396.4,323.2L396.9,320.2L398.7,317.3L400.6,313.6L401.1,311.5L401.2,308.3L403.6,304.3L404.7,301.5L402.8,297.3L407.0,294.9L406.2,292.2L409.2,289.4" fill="none" stroke="#000000" stroke-opacity="0.42" stroke-width="0.7" stroke-linejoin="round"/>
<path d="M386.7,353.0L387.4,349.7L387.6,345.9L388.7,342.5L389.9,337.8L390.4,335.1L391.4,330.7L393.6,327.1L394.3,322.7L395.1,319.4L396.0,315.5L397.1,312.1L398.0,308.9L401.2,305.5L400.3,300.7L402.1,299.2L404.5,294.7L406.0,291.2L407.5,288.0L409.4,285.3L410.3,281.5" fill="none" stroke="#000000" stroke-opacity="0.42" stroke-width="0.7" stroke-linejoin="round"/>
<path d="M386.7,353.0L388.0,350.1L389.1,346.1L389.5,342.7L392.3,340.2L391.5,336.0L393.1,332.4L395.4,330.1L395.2,327.8L398.7,323.7L399.0,318.7L400.4,316.6L400.4,312.8L403.0,309.5L403.8,307.6L406.3,304.5L407.2,300.9L406.6,297.7L411.5,293.1L412.5,290.7L412.6,287.1" fill="none" stroke="#000000" stroke-opacity="0.42" stroke-width="0.7" stroke-linejoin="round"/>
<path d="M386.7,353.0L387.3,349.5L387.6,346.7L387.3,342.1L388.3,338.0L388.0,334.7L389.6,330.8L391.0,327.3L389.8,324.7L391.8,321.8L392.9,317.5L393.8,314.2L394.6,311.6L398.0,309.3L397.7,303.7L399.7,301.4L399.9,298.0L403.9,295.3L404.8,291.7L405.3,288.8L407.7,285.3" fill="none" stroke="#000000" stroke-opacity="0.42" stroke-width="0.7" stroke-linejoin="round"/>
<path d="M386.7,353.0L387.1,349.1L388.7,345.6L389.2,342.4L389.4,338.8L391.5,334.8L392.5,331.1L392.4,328.6L394.9,324.8L395.4,320.9L395.7,317.9L397.4,313.8L399.0,310.8L399.9,307.3L403.2,304.3L402.3,300.8L404.3,298.0L405.9,293.8L406.3,290.7L409.5,287.5L411.8,284.7" fill="none" stroke="#000000" stroke-opacity="0.42" stroke-width="0.7" stroke-linejoin="round"/>
<path d="M386.7,353.0L387.3,349.9L389.4,346.0L390.1,343.7L389.9,339.9L391.2,336.6L393.6,333.8L395.0,330.5L394.9,326.4L397.3,323.9L397.8,321.5L398.4,316.8L399.5,313.5L400.2,311.2L401.0,307.7L403.2,304.7L405.3,301.4L406.6,298.4L408.2,295.4L409.4,292.7L410.2,288.3" fill="none" stroke="#000000" stroke-opacity="0.42" stroke-width="0.7" stroke-linejoin="round"/>
<path d="M386.7,353.0L388.1,349.2L388.6,345.5L389.7,342.8L390.6,339.4L391.7,336.4L392.3,332.4L393.4,329.3L394.4,325.7L396.3,321.4L397.3,318.5L398.8,315.7L399.9,311.5L401.1,308.1L402.8,305.5L403.9,302.3L405.3,299.4L406.1,294.9L409.8,291.3L409.8,287.5L412.7,285.4" fill="none" stroke="#000000" stroke-opacity="0.42" stroke-width="0.7" stroke-linejoin="round"/>
<path d="M386.7,353.0L386.2,349.2L385.6,344.9L386.1,342.3L386.6,338.1L385.7,334.0L387.5,331.0L386.5,327.6L388.5,325.3L390.0,320.5L388.6,317.4L390.8,313.4L391.6,309.7L393.3,306.7L395.0,305.0L398.4,301.9L400.9,298.4L400.3,295.1L403.9,293.1L406.3,289.8L408.3,286.9" fill="none" stroke="#000000" stroke-opacity="0.42" stroke-width="0.7" stroke-linejoin="round"/>
<path d="M386.6,354.0L405.7,348.8L401.5,344.0L395.2,338.7L397.0,333.6L399.1,328.8L401.8,324.7L403.5,319.3L406.3,314.2L407.3,309.4L407.2,304.1L410.8,300.0L416.9,295.9L418.4,291.1L420.4,285.9L425.6,282.6L427.3,277.0L426.5,271.9L442.3,268.2L436.9,264.5L440.7,259.8" fill="none" stroke="#DC5428" stroke-opacity="0.55" stroke-width="0.7" stroke-linejoin="round"/>
<path d="M386.6,354.0L390.2,347.7L391.9,342.0L393.2,337.7L400.6,330.9L395.8,326.7L398.2,321.2L401.1,315.5L398.9,308.9L408.6,304.0L410.3,298.7L414.8,293.9L424.1,288.3L419.0,283.3L418.7,276.7L426.2,271.3L426.6,267.2L431.5,262.8L437.3,256.9L447.6,253.0L441.5,247.8" fill="none" stroke="#DC5428" stroke-opacity="0.55" stroke-width="0.7" stroke-linejoin="round"/>
<path d="M386.6,354.0L389.3,348.6L401.9,343.8L390.0,339.6L398.3,334.8L398.4,330.5L396.6,325.0L399.8,320.7L397.7,316.2L402.5,312.1L402.1,307.9L404.0,301.6L405.5,297.5L408.7,293.7L409.3,290.1L411.0,285.7L418.6,280.8L422.4,277.7L423.1,272.7L426.1,269.5L422.7,265.6" fill="none" stroke="#DC5428" stroke-opacity="0.55" stroke-width="0.7" stroke-linejoin="round"/>
<path d="M386.6,354.0L389.4,348.8L390.4,343.2L392.5,339.1L394.8,332.2L400.6,327.6L397.8,322.3L398.4,317.9L404.6,312.0L402.4,307.7L408.3,302.4L407.1,297.9L404.8,293.2L413.5,288.3L418.2,282.1L414.6,278.1L420.4,273.4L440.4,269.7L422.3,264.6L429.0,260.1L431.4,256.0" fill="none" stroke="#DC5428" stroke-opacity="0.55" stroke-width="0.7" stroke-linejoin="round"/>
<path d="M386.6,354.0L390.1,348.3L389.8,343.6L394.3,337.0L394.2,332.0L394.8,325.0L401.5,319.8L400.6,314.7L403.6,309.8L406.3,303.5L407.9,299.0L412.8,293.8L415.3,288.8L415.5,283.6L419.2,278.3L421.2,274.0L428.6,268.5L428.2,264.0L434.2,258.7L440.3,254.9L447.9,250.6" fill="none" stroke="#DC5428" stroke-opacity="0.55" stroke-width="0.7" stroke-linejoin="round"/>
<path d="M386.6,354.0L394.2,348.5L389.8,344.0L399.7,338.6L392.9,333.9L395.2,329.2L406.7,325.7L401.4,319.8L410.5,316.2L406.9,311.0L407.3,306.1L408.0,302.8L408.8,297.7L421.6,293.3L418.5,288.3L430.5,284.4L419.0,280.2L429.5,276.6L448.8,272.6L438.4,268.6L436.5,263.8" fill="none" stroke="#DC5428" stroke-opacity="0.55" stroke-width="0.7" stroke-linejoin="round"/>
<path d="M386.6,354.0L388.8,348.6L405.6,343.4L412.0,338.7L394.6,333.8L399.5,329.4L400.4,324.6L402.2,320.4L403.9,314.7L403.6,311.5L406.9,305.7L410.1,301.7L410.3,296.5L412.5,292.9L417.1,287.7L419.9,283.6L438.4,278.5L430.5,274.5L432.7,270.4L436.6,265.8L445.5,262.4" fill="none" stroke="#DC5428" stroke-opacity="0.55" stroke-width="0.7" stroke-linejoin="round"/>
<path d="M386.6,354.0L388.3,348.1L389.0,341.8L396.2,336.3L396.2,329.4L402.1,324.1L399.5,318.6L399.7,312.6L404.9,307.8L406.1,301.7L409.9,296.2L411.4,289.1L417.1,284.3L412.8,278.5L417.6,273.0L418.0,268.4L423.7,261.1L429.6,256.8L429.3,251.2L428.1,246.1L438.5,241.7" fill="none" stroke="#DC5428" stroke-opacity="0.55" stroke-width="0.7" stroke-linejoin="round"/>
<path d="M386.6,354.0L390.6,348.1L389.4,342.4L390.7,336.7L399.6,331.5L405.1,326.0L397.2,321.0L402.8,315.6L404.8,310.6L413.0,305.4L406.4,299.8L408.2,294.3L424.6,290.4L418.4,286.3L422.3,280.3L419.3,275.8L426.5,271.4L429.6,265.9L435.5,261.5L436.6,258.1L444.5,252.5" fill="none" stroke="#DC5428" stroke-opacity="0.55" stroke-width="0.7" stroke-linejoin="round"/>
<path d="M386.6,354.0L389.6,348.5L392.6,342.3L407.2,336.3L397.0,331.0L398.8,325.1L400.0,319.5L401.4,313.7L404.5,309.5L408.4,303.3L412.3,298.2L419.6,292.5L418.6,288.4L423.5,282.8L426.2,277.0L434.3,271.2L434.6,266.6L436.8,261.4L443.6,258.2L444.7,252.0L435.5,248.5" fill="none" stroke="#DC5428" stroke-opacity="0.55" stroke-width="0.7" stroke-linejoin="round"/>
<path d="M386.0,355.2L401.6,348.9L392.6,339.9L415.9,333.3L436.9,326.9L404.5,320.5L421.0,313.6L416.0,307.4L418.5,300.6L422.4,294.5L445.3,287.8L427.8,281.3L434.6,275.6L470.6,270.3L450.3,265.0L472.5,259.1L454.2,253.7L461.7,249.0L443.9,244.0L459.3,239.7L495.2,235.4L465.2,231.0L467.2,227.9" fill="none" stroke="#CC247D" stroke-opacity="0.5" stroke-width="0.7" stroke-linejoin="round"/>
<path d="M386.0,355.2L391.4,348.0L397.8,341.1L398.7,333.7L405.9,327.8L410.9,321.5L414.4,313.4L451.8,307.0L426.9,300.6L428.9,294.1L431.3,288.3L439.1,282.5L442.3,277.1L442.5,270.6L475.5,264.4L464.8,259.6L459.9,255.0L463.6,250.7L470.3,245.6L486.8,240.2L487.1,237.0L481.8,232.3L488.3,229.5" fill="none" stroke="#CC247D" stroke-opacity="0.5" stroke-width="0.7" stroke-linejoin="round"/>
<path d="M386.0,355.2L390.1,347.8L407.3,342.2L423.8,336.9L424.5,330.5L405.3,324.0L411.7,317.8L414.6,312.6L430.7,307.0L428.0,301.2L428.7,296.2L427.4,290.2L435.4,286.1L441.5,280.5L446.5,275.7L445.7,270.9L451.4,266.0L447.7,260.9L461.6,258.0L463.7,253.1L463.2,250.9L454.6,246.4L465.8,245.2" fill="none" stroke="#CC247D" stroke-opacity="0.5" stroke-width="0.7" stroke-linejoin="round"/>
<path d="M386.0,355.2L389.7,348.2L418.5,340.6L437.7,335.2L417.3,328.0L408.1,320.8L410.6,314.9L415.3,308.9L415.9,302.8L418.4,297.0L429.0,291.3L432.6,284.5L432.7,279.4L439.7,274.2L444.8,268.5L449.4,263.6L452.6,259.0L454.4,254.3L488.1,248.7L460.1,245.4L466.5,240.1L453.7,237.9L470.2,233.9" fill="none" stroke="#CC247D" stroke-opacity="0.5" stroke-width="0.7" stroke-linejoin="round"/>
<path d="M386.0,355.2L389.2,347.9L394.7,340.2L408.7,333.2L403.7,326.6L421.4,319.6L414.4,314.4L416.7,307.3L420.2,299.8L432.6,293.8L431.1,288.8L437.1,283.5L437.7,277.7L440.8,272.1L448.1,267.7L452.3,261.3L457.4,256.0L488.5,251.5L461.6,247.3L471.3,243.1L473.6,240.3L478.4,235.8L480.8,233.5" fill="none" stroke="#CC247D" stroke-opacity="0.5" stroke-width="0.7" stroke-linejoin="round"/>
<path d="M386.0,355.2L396.0,348.9L395.2,340.5L397.4,334.5L435.0,328.3L407.6,322.0L442.9,315.1L414.5,310.1L433.2,303.3L413.4,298.8L426.1,292.6L431.5,287.9L439.2,283.0L443.3,277.5L468.1,272.5L487.4,267.9L451.4,262.5L462.3,258.4L461.8,253.1L466.0,251.8L470.2,246.2L475.3,243.3L480.9,239.9" fill="none" stroke="#CC247D" stroke-opacity="0.5" stroke-width="0.7" stroke-linejoin="round"/>
<path d="M386.0,355.2L422.6,348.7L410.6,343.0L427.9,336.5L412.0,330.3L412.7,325.0L415.7,318.9L418.7,313.7L438.2,307.7L451.6,303.2L433.2,297.7L435.9,292.6L446.2,287.3L492.9,282.2L455.5,278.2L462.0,273.1L467.3,268.5L462.4,264.9L473.0,260.3L473.6,255.8L481.4,253.0L493.4,249.5L483.0,248.1" fill="none" stroke="#CC247D" stroke-opacity="0.5" stroke-width="0.7" stroke-linejoin="round"/>
<path d="M386.0,355.2L391.0,346.8L421.4,339.6L401.4,332.8L408.8,326.2L411.0,319.2L417.9,312.7L421.3,305.2L435.3,298.5L423.3,292.5L439.1,285.4L443.9,279.6L450.7,273.1L454.8,268.9L456.5,263.1L464.6,257.3L473.2,252.0L479.8,247.5L464.7,241.7L486.6,237.3L477.8,234.1L495.6,230.4L515.4,227.4" fill="none" stroke="#CC247D" stroke-opacity="0.5" stroke-width="0.7" stroke-linejoin="round"/>
<path d="M386.0,355.2L394.0,347.6L394.6,341.1L421.0,332.9L425.5,326.9L428.0,319.7L443.1,312.4L423.1,306.7L435.6,299.9L430.3,292.9L435.4,287.6L465.9,281.0L445.2,275.5L467.5,270.0L453.8,263.6L490.8,258.9L464.9,252.4L469.9,248.6L475.4,244.1L477.0,238.1L483.7,235.7L492.3,230.8L489.4,228.1" fill="none" stroke="#CC247D" stroke-opacity="0.5" stroke-width="0.7" stroke-linejoin="round"/>
<path d="M386.0,355.2L405.4,348.8L404.0,342.4L406.1,336.1L445.0,330.4L411.4,324.8L413.2,319.3L448.3,313.3L426.3,307.2L432.7,302.8L439.5,297.3L440.3,292.2L437.9,287.9L453.2,281.5L455.0,278.6L491.6,274.6L466.5,269.7L470.0,265.6L477.1,261.1L478.8,256.9L490.0,253.9L491.1,250.9L491.3,248.2" fill="none" stroke="#CC247D" stroke-opacity="0.5" stroke-width="0.7" stroke-linejoin="round"/>
<path d="M386.3,336.5L393.9,327.1L401.3,316.8L438.2,307.7L418.7,299.2L427.0,290.0L435.2,282.0L443.1,273.7L453.7,265.4L462.1,257.1L471.7,250.5L480.8,243.0L488.4,235.9L498.2,228.0L510.0,221.1L518.2,214.9L529.5,209.2L539.6,203.2L549.5,197.3L562.7,190.9L574.6,187.0L585.2,180.5L592.6,175.7L604.8,170.4L615.6,166.4L628.8,162.6L639.1,159.4" fill="none" stroke="#3998DB" stroke-opacity="0.6" stroke-width="0.7" stroke-linejoin="round"/>
<path d="M386.3,336.5L393.6,327.1L400.8,318.0L408.8,308.4L415.2,300.3L423.6,292.1L431.2,283.8L439.9,275.9L448.3,267.7L455.8,259.4L464.5,253.8L474.5,245.5L480.3,239.2L492.3,232.6L501.9,225.8L510.8,220.2L521.8,213.5L526.9,207.7L536.8,201.5L548.9,197.4L557.9,191.6L570.4,186.4L583.0,181.2L587.0,177.7L600.5,172.5L611.6,168.9L623.0,165.4" fill="none" stroke="#3998DB" stroke-opacity="0.6" stroke-width="0.7" stroke-linejoin="round"/>
<path d="M386.3,336.5L395.3,327.1L403.2,318.0L423.8,310.6L420.3,301.2L430.7,292.8L436.9,285.1L454.1,277.5L455.6,270.2L465.5,262.9L474.7,256.4L485.3,249.2L492.8,242.4L505.6,235.7L513.6,230.0L524.7,224.3L532.5,218.2L544.1,212.9L553.0,207.1L564.1,201.1L572.4,197.5L589.1,192.3L599.4,188.3L608.5,182.7L620.2,177.9L630.4,175.6L639.7,172.9" fill="none" stroke="#3998DB" stroke-opacity="0.6" stroke-width="0.7" stroke-linejoin="round"/>
<path d="M386.3,336.5L395.0,328.4L402.4,319.9L411.6,312.6L420.8,303.4L430.9,296.3L438.6,288.7L447.3,280.3L457.8,272.8L465.1,266.3L474.3,258.5L486.7,252.3L496.2,246.2L507.7,239.2L515.7,233.2L526.1,227.4L535.3,222.2L546.3,217.0L554.6,210.2L569.8,205.2L577.8,201.0L589.9,194.6L600.6,189.6L611.4,186.8L623.8,181.6L634.3,178.4L642.3,174.1" fill="none" stroke="#3998DB" stroke-opacity="0.6" stroke-width="0.7" stroke-linejoin="round"/>
<path d="M386.3,336.5L395.7,329.6L403.6,322.8L413.4,316.7L421.3,308.2L431.5,301.7L442.1,296.1L470.2,289.5L460.3,283.6L469.3,277.9L479.9,271.2L489.1,265.8L499.3,261.1L510.9,255.3L521.4,249.3L529.5,244.6L539.7,239.9L550.5,234.4L559.2,230.0L572.4,225.6L580.4,221.2L591.5,215.3L603.4,212.1L612.2,207.7L621.2,203.8L634.7,199.6L643.1,196.8" fill="none" stroke="#3998DB" stroke-opacity="0.6" stroke-width="0.7" stroke-linejoin="round"/>
<path d="M386.3,336.5L396.0,330.3L427.9,323.6L413.8,316.8L423.8,310.2L431.7,304.3L439.4,298.6L449.3,291.5L459.0,285.5L470.0,280.2L476.4,274.9L487.8,269.3L497.5,263.5L506.1,259.1L517.7,253.3L528.7,247.8L534.0,242.6L545.3,238.3L555.1,232.8L569.4,229.3L576.6,223.1L588.5,220.2L597.5,216.0L609.6,210.7L620.8,206.9L629.7,203.8L638.4,199.3" fill="none" stroke="#3998DB" stroke-opacity="0.6" stroke-width="0.7" stroke-linejoin="round"/>
<path d="M386.3,336.5L396.9,329.6L405.5,323.8L414.2,317.6L423.4,310.3L449.5,304.3L444.0,298.4L454.3,292.2L463.5,285.8L472.7,280.8L484.5,274.9L496.6,269.9L507.7,265.5L517.8,260.1L523.7,255.1L539.4,250.5L548.6,245.2L554.0,241.1L566.5,237.4L580.1,232.4L589.3,228.5L603.2,224.5L611.5,220.9L622.9,216.4L636.4,214.1L644.6,209.9L659.1,206.1" fill="none" stroke="#3998DB" stroke-opacity="0.6" stroke-width="0.7" stroke-linejoin="round"/>
<path d="M386.3,336.5L394.8,330.2L409.4,325.6L409.6,319.2L417.9,314.4L432.9,309.9L434.1,304.4L444.1,300.5L450.2,295.1L459.7,290.8L466.9,285.8L476.1,280.9L485.1,276.2L492.5,272.6L500.3,268.7L508.8,265.2L516.9,260.2L527.6,257.1L537.5,252.7L545.9,249.1L554.3,246.0L561.9,243.0L571.5,239.7L582.4,235.7L590.6,232.7L600.7,230.1L607.7,227.7" fill="none" stroke="#3998DB" stroke-opacity="0.6" stroke-width="0.7" stroke-linejoin="round"/>
<path d="M386.3,336.5L393.2,332.1L401.5,326.4L409.4,321.2L417.4,315.9L425.4,312.2L460.4,307.3L441.3,302.8L463.5,298.1L454.6,293.6L464.5,290.7L472.0,286.5L480.6,281.4L489.8,277.6L495.3,274.7L508.8,271.2L515.1,267.6L523.2,264.5L530.0,260.5L541.2,255.9L548.7,252.5L556.8,250.1L565.9,246.2L573.4,244.0L584.6,240.4L589.2,237.8L602.5,236.4" fill="none" stroke="#3998DB" stroke-opacity="0.6" stroke-width="0.7" stroke-linejoin="round"/>
<path d="M386.3,336.5L395.0,330.0L402.6,321.6L412.2,314.8L432.8,308.4L438.9,300.6L437.5,295.7L447.5,288.9L457.6,282.1L466.2,277.0L476.0,271.7L484.4,264.5L496.3,259.4L504.8,254.1L513.0,247.8L522.2,242.7L534.8,237.9L542.2,233.5L555.0,229.2L563.6,224.8L573.6,219.8L582.5,216.3L592.7,212.3L604.5,207.9L612.7,203.5L627.8,201.7L638.1,197.8" fill="none" stroke="#3998DB" stroke-opacity="0.6" stroke-width="0.7" stroke-linejoin="round"/>
<path d="M386.6,352.5L401.8,340.5M401.8,340.5L395.9,328.1M395.9,328.1L430.5,315.4M430.5,315.4L407.7,302.7M407.7,302.7L441.5,291.4M441.5,291.4L431.6,278.0M431.6,278.0L428.6,265.3M428.6,265.3L434.3,254.5M434.3,254.5L444.0,242.6M444.0,242.6L449.9,230.6M449.9,230.6L456.5,218.6M456.5,218.6L464.8,207.1M464.8,207.1L472.2,196.4M472.2,196.4L483.7,183.7M483.7,183.7L485.5,172.8M485.5,172.8L494.3,162.3M494.3,162.3L502.5,152.4M502.5,152.4L507.3,140.8M507.3,140.8L519.7,129.9M519.7,129.9L523.2,118.6" fill="none" stroke="#3998DB" stroke-opacity="0.55" stroke-width="0.7" stroke-dasharray="5.3 5.3" stroke-linejoin="round"/>
<path d="M386.6,352.5L395.6,339.8M395.6,339.8L400.4,327.6M400.4,327.6L405.3,315.9M405.3,315.9L429.6,303.6M429.6,303.6L419.8,292.0M419.8,292.0L425.2,279.1M425.2,279.1L431.9,268.1M431.9,268.1L443.0,256.8M443.0,256.8L447.5,245.0M447.5,245.0L456.5,233.4M456.5,233.4L467.4,221.7M467.4,221.7L472.7,210.5M472.7,210.5L483.9,199.2M483.9,199.2L494.5,187.5M494.5,187.5L496.0,176.8M496.0,176.8L504.6,165.8M504.6,165.8L512.8,154.7M512.8,154.7L524.8,145.1M524.8,145.1L526.7,133.9M526.7,133.9L554.5,123.4" fill="none" stroke="#3998DB" stroke-opacity="0.55" stroke-width="0.7" stroke-dasharray="5.3 5.3" stroke-linejoin="round"/>
<path d="M386.6,352.5L394.7,341.3M394.7,341.3L401.8,329.2M401.8,329.2L409.6,317.2M409.6,317.2L413.7,306.4M413.7,306.4L430.8,295.6M430.8,295.6L454.7,284.6M454.7,284.6L439.8,274.8M439.8,274.8L447.5,262.5M447.5,262.5L454.3,251.1M454.3,251.1L462.6,240.6M462.6,240.6L466.8,230.0M466.8,230.0L475.3,220.2M475.3,220.2L481.4,208.8M481.4,208.8L494.3,197.7M494.3,197.7L497.0,187.6M497.0,187.6L507.1,177.4M507.1,177.4L519.3,167.1M519.3,167.1L526.8,157.4M526.8,157.4L544.2,146.7M544.2,146.7L538.3,136.4" fill="none" stroke="#3998DB" stroke-opacity="0.55" stroke-width="0.7" stroke-dasharray="5.3 5.3" stroke-linejoin="round"/>
<path d="M386.6,352.5L393.3,342.1M393.3,342.1L399.3,332.9M399.3,332.9L421.1,322.5M421.1,322.5L413.2,312.4M413.2,312.4L419.2,302.5M419.2,302.5L425.7,293.4M425.7,293.4L433.4,283.0M433.4,283.0L443.1,272.4M443.1,272.4L448.3,263.6M448.3,263.6L457.1,254.4M457.1,254.4L463.2,244.6M463.2,244.6L473.2,235.4M473.2,235.4L478.7,226.1M478.7,226.1L486.8,216.9M486.8,216.9L496.8,206.9M496.8,206.9L500.0,199.0M500.0,199.0L514.5,190.2M514.5,190.2L517.1,180.1M517.1,180.1L524.2,171.2M524.2,171.2L535.5,162.5" fill="none" stroke="#3998DB" stroke-opacity="0.55" stroke-width="0.7" stroke-dasharray="5.3 5.3" stroke-linejoin="round"/>
<path d="M386.6,352.5L392.4,343.3M392.4,343.3L412.6,333.0M412.6,333.0L423.9,323.5M423.9,323.5L412.2,314.7M412.2,314.7L434.6,305.2M434.6,305.2L428.4,295.3M428.4,295.3L433.5,286.9M433.5,286.9L440.4,276.0M440.4,276.0L449.0,267.0M449.0,267.0L454.3,258.1M454.3,258.1L461.8,249.2M461.8,249.2L471.9,239.6M471.9,239.6L471.7,231.3M471.7,231.3L489.9,221.8M489.9,221.8L490.9,213.5M490.9,213.5L497.9,205.0M497.9,205.0L505.3,195.9M505.3,195.9L514.3,187.2M514.3,187.2L524.2,178.9M524.2,178.9L533.6,169.4" fill="none" stroke="#3998DB" stroke-opacity="0.55" stroke-width="0.7" stroke-dasharray="5.3 5.3" stroke-linejoin="round"/>
<path d="M386.6,352.5L391.7,340.5M391.7,340.5L398.4,328.2M398.4,328.2L403.6,316.3M403.6,316.3L408.7,304.7M408.7,304.7L439.8,293.1M439.8,293.1L418.9,280.9M418.9,280.9L429.0,269.4M429.0,269.4L432.3,258.2M432.3,258.2L441.6,247.2M441.6,247.2L445.2,235.4M445.2,235.4L453.2,224.8M453.2,224.8L461.8,213.5M461.8,213.5L463.6,203.4M463.6,203.4L478.7,191.0M478.7,191.0L479.2,180.4M479.2,180.4L487.3,170.3M487.3,170.3L495.7,160.1M495.7,160.1L505.6,149.0M505.6,149.0L511.5,138.2M511.5,138.2L517.5,128.1" fill="none" stroke="#3998DB" stroke-opacity="0.55" stroke-width="0.7" stroke-dasharray="5.3 5.3" stroke-linejoin="round"/>
<path d="M386.6,352.5L397.0,340.4M397.0,340.4L397.8,329.1M397.8,329.1L403.9,318.3M403.9,318.3L411.6,305.8M411.6,305.8L448.8,293.6M448.8,293.6L432.8,281.7M432.8,281.7L432.3,270.8M432.3,270.8L440.5,259.5M440.5,259.5L451.2,248.6M451.2,248.6L452.3,236.4M452.3,236.4L459.9,224.7M459.9,224.7L472.3,214.5M472.3,214.5L476.2,204.6M476.2,204.6L481.6,192.8M481.6,192.8L491.3,182.2M491.3,182.2L502.9,171.9M502.9,171.9L504.7,161.7M504.7,161.7L516.3,150.9M516.3,150.9L529.9,140.7M529.9,140.7L533.7,130.4" fill="none" stroke="#3998DB" stroke-opacity="0.55" stroke-width="0.7" stroke-dasharray="5.3 5.3" stroke-linejoin="round"/>
<path d="M386.6,352.5L416.8,340.9M416.8,340.9L397.8,331.0M397.8,331.0L406.9,320.3M406.9,320.3L414.5,309.4M414.5,309.4L420.5,298.7M420.5,298.7L425.9,288.4M425.9,288.4L437.7,277.5M437.7,277.5L443.5,267.8M443.5,267.8L448.1,257.5M448.1,257.5L457.0,247.0M457.0,247.0L466.2,237.7M466.2,237.7L469.6,227.7M469.6,227.7L484.8,217.1M484.8,217.1L486.6,207.0M486.6,207.0L498.1,198.1M498.1,198.1L505.9,187.4M505.9,187.4L512.0,178.2M512.0,178.2L519.7,168.6M519.7,168.6L528.7,159.0M528.7,159.0L540.2,150.1" fill="none" stroke="#3998DB" stroke-opacity="0.55" stroke-width="0.7" stroke-dasharray="5.3 5.3" stroke-linejoin="round"/>
<path d="M386.6,352.5L393.4,341.4M393.4,341.4L400.7,331.2M400.7,331.2L405.7,321.6M405.7,321.6L412.7,311.1M412.7,311.1L421.4,301.0M421.4,301.0L425.1,291.9M425.1,291.9L430.5,281.1M430.5,281.1L435.8,271.7M435.8,271.7L445.0,261.5M445.0,261.5L454.7,252.3M454.7,252.3L464.4,241.5M464.4,241.5L465.5,232.1M465.5,232.1L471.8,223.4M471.8,223.4L478.6,213.5M478.6,213.5L486.7,204.0M486.7,204.0L494.6,194.6M494.6,194.6L510.4,185.2M510.4,185.2L505.0,177.1M505.0,177.1L521.2,167.3M521.2,167.3L530.3,157.5" fill="none" stroke="#3998DB" stroke-opacity="0.55" stroke-width="0.7" stroke-dasharray="5.3 5.3" stroke-linejoin="round"/>
<path d="M386.6,352.5L391.8,342.2M391.8,342.2L423.4,330.4M423.4,330.4L405.7,320.2M405.7,320.2L408.9,309.5M408.9,309.5L414.9,299.3M414.9,299.3L419.3,288.4M419.3,288.4L426.2,278.1M426.2,278.1L433.7,267.4M433.7,267.4L439.1,257.5M439.1,257.5L448.6,247.7M448.6,247.7L452.4,236.8M452.4,236.8L461.9,227.4M461.9,227.4L467.4,218.0M467.4,218.0L473.0,208.4M473.0,208.4L477.2,197.7M477.2,197.7L495.1,187.6M495.1,187.6L498.4,178.4M498.4,178.4L506.7,168.9M506.7,168.9L507.5,159.1M507.5,159.1L515.8,149.4" fill="none" stroke="#3998DB" stroke-opacity="0.55" stroke-width="0.7" stroke-dasharray="5.3 5.3" stroke-linejoin="round"/>
<path d="M386.5,356.9L388.4,348.5L390.2,338.5L393.6,330.6L395.1,321.1L397.9,310.8L401.7,302.1L403.6,293.5L406.9,284.7L408.6,275.6L412.3,266.6L415.6,257.0L417.9,248.5L419.6,239.0L424.6,230.5L427.3,222.3L428.6,214.3L432.9,204.2L438.8,196.8L439.7,187.2L444.4,178.2L447.3,169.5L451.0,161.9L455.8,153.1L457.0,143.6L464.8,135.7L467.5,126.8" fill="none" stroke="#66AA44" stroke-opacity="0.55" stroke-width="0.7" stroke-linejoin="round"/>
<path d="M386.5,356.9L389.1,348.4L390.6,338.7L393.2,330.1L400.8,320.2L405.4,312.5L402.0,303.4L404.5,294.6L407.9,285.3L410.2,276.8L411.3,268.9L415.8,259.7L418.9,250.7L423.3,241.7L426.2,234.1L427.6,225.2L431.9,216.0L434.8,207.8L439.2,199.2L443.6,190.9L446.1,182.6L449.8,173.5L456.0,165.2L457.6,156.4L461.7,149.2L466.1,140.0L471.1,131.2" fill="none" stroke="#66AA44" stroke-opacity="0.55" stroke-width="0.7" stroke-linejoin="round"/>
<path d="M386.5,356.9L390.8,348.0L414.2,336.9L398.9,327.8L403.2,317.7L417.2,308.4L412.6,299.3L416.5,290.2L420.7,279.4L424.4,270.7L430.1,260.4L432.6,251.3L439.1,241.5L444.4,231.6L448.1,222.9L452.9,213.5L455.8,204.0L462.1,194.4L465.7,184.2L472.3,175.5L478.0,166.6L480.1,156.9L486.5,146.1L490.7,137.9L494.1,129.9L498.6,118.4L504.1,109.6" fill="none" stroke="#66AA44" stroke-opacity="0.55" stroke-width="0.7" stroke-linejoin="round"/>
<path d="M386.5,356.9L393.0,348.8L397.5,338.5L404.9,329.3L410.0,320.7L414.8,312.6L419.9,303.3L427.7,294.4L432.1,286.6L440.1,275.8L444.7,266.9L450.0,258.1L454.0,249.8L462.7,240.1L466.3,230.8L471.2,221.9L477.9,212.3L483.2,204.0L487.5,195.1L494.3,184.9L499.1,176.8L503.9,167.6L509.0,157.0L515.8,148.3L520.8,138.4L521.9,129.6L532.3,120.9" fill="none" stroke="#66AA44" stroke-opacity="0.55" stroke-width="0.7" stroke-linejoin="round"/>
<path d="M386.5,356.9L391.7,349.3L396.2,340.6L401.8,331.8L406.8,324.2L411.4,315.5L416.5,308.3L420.0,300.2L426.4,292.3L430.4,284.0L435.1,275.4L441.5,267.6L446.7,258.9L450.0,251.1L455.2,242.3L459.5,233.3L465.5,225.5L469.9,216.8L473.5,209.2L479.3,201.6L483.9,192.0L487.0,183.8L494.3,176.0L495.9,167.2L501.6,158.6L508.5,150.7L510.7,142.0" fill="none" stroke="#66AA44" stroke-opacity="0.55" stroke-width="0.7" stroke-linejoin="round"/>
<path d="M386.5,356.9L390.6,349.4L395.5,341.5L399.9,333.8L404.4,326.5L409.8,318.4L429.1,310.8L423.4,303.2L422.7,296.3L427.2,288.3L431.9,281.0L436.8,272.0L441.0,266.7L446.5,257.4L447.3,250.1L452.7,242.2L458.6,235.0L463.9,227.2L467.5,220.4L470.9,212.2L476.6,204.5L477.5,197.2L485.5,189.1L489.2,182.4L492.5,174.3L496.4,165.3L502.4,157.5" fill="none" stroke="#66AA44" stroke-opacity="0.55" stroke-width="0.7" stroke-linejoin="round"/>
<path d="M386.5,356.9L392.0,349.5L400.5,341.8L400.5,333.4L414.9,325.0L410.9,317.2L416.7,310.8L421.3,302.0L425.8,293.7L429.8,286.1L434.6,278.3L439.4,270.3L445.1,262.3L449.1,254.2L454.5,246.3L458.4,237.9L460.9,231.1L465.9,222.2L470.6,214.9L477.3,206.5L482.1,198.5L486.4,190.1L490.4,182.2L494.4,174.1L499.4,166.3L502.5,157.4L508.5,149.3" fill="none" stroke="#66AA44" stroke-opacity="0.55" stroke-width="0.7" stroke-linejoin="round"/>
<path d="M386.5,356.9L391.4,348.5L413.5,340.2L402.5,331.4L408.1,323.0L429.1,315.0L416.8,306.6L423.2,298.3L428.0,290.3L434.1,281.9L437.9,274.2L444.1,265.3L449.1,256.6L454.2,247.1L458.3,240.3L464.5,230.4L469.8,221.9L474.6,213.4L480.0,205.2L483.7,196.5L487.8,187.4L491.6,179.9L496.5,171.5L501.3,162.6L505.8,154.1L510.6,143.9L515.5,135.7" fill="none" stroke="#66AA44" stroke-opacity="0.55" stroke-width="0.7" stroke-linejoin="round"/>
<path d="M386.5,356.9L390.1,348.2L394.9,340.9L399.2,332.7L403.4,323.2L406.3,316.1L410.7,308.9L413.7,300.5L419.2,293.0L423.1,283.9L428.0,277.1L431.4,268.7L434.8,260.1L438.0,252.1L446.5,244.9L448.2,236.4L452.6,227.7L459.4,220.5L461.4,213.0L467.3,205.2L468.8,197.2L474.6,189.9L476.3,181.3L480.9,174.9L489.3,165.4L494.2,157.7L497.0,150.4" fill="none" stroke="#66AA44" stroke-opacity="0.55" stroke-width="0.7" stroke-linejoin="round"/>
<path d="M386.5,356.9L389.6,348.2L399.6,340.5L397.7,333.0L419.6,324.1L403.8,315.7L407.9,307.9L412.3,299.0L415.6,291.0L418.9,282.5L423.8,276.5L425.7,265.9L430.7,257.8L435.9,250.8L438.5,241.8L442.2,233.1L448.9,226.9L451.2,219.1L453.6,209.7L458.3,201.2L463.0,194.4L468.1,185.6L471.8,177.4L475.2,168.7L478.4,162.0L484.4,154.6L488.5,145.5" fill="none" stroke="#66AA44" stroke-opacity="0.55" stroke-width="0.7" stroke-linejoin="round"/>
<path d="M386.7,353.0 L410.1,288.4" fill="none" stroke="#000000" stroke-width="2.3" stroke-linecap="butt" stroke-linejoin="round"/>
<path d="M415.0,316.0 L410.1,288.4 L388.6,306.5" fill="none" stroke="#000000" stroke-width="2.3" stroke-linejoin="miter"/>
<path d="M386.6,354.0 L436.0,259.7" fill="none" stroke="#DC5428" stroke-width="2.3" stroke-linecap="butt" stroke-linejoin="round"/>
<path d="M437.2,287.7 L436.0,259.7 L412.4,274.7" fill="none" stroke="#DC5428" stroke-width="2.3" stroke-linejoin="miter"/>
<path d="M386.0,355.2 L484.2,230.2" fill="none" stroke="#CC247D" stroke-width="2.3" stroke-linecap="butt" stroke-linejoin="round"/>
<path d="M480.2,257.9 L484.2,230.2 L458.2,240.6" fill="none" stroke="#CC247D" stroke-width="2.3" stroke-linejoin="miter"/>
<path d="M386.3,336.5 L638.6,176.9" fill="none" stroke="#3998DB" stroke-width="2.3" stroke-linecap="butt" stroke-linejoin="round"/>
<path d="M625.5,201.7 L638.6,176.9 L610.6,178.1" fill="none" stroke="#3998DB" stroke-width="2.3" stroke-linejoin="miter"/>
<path d="M386.6,352.5 L531.0,144.5" fill="none" stroke="#3998DB" stroke-width="2.3" stroke-dasharray="7.4 6.6" stroke-dashoffset="1.6" stroke-linecap="butt" stroke-linejoin="round"/>
<path d="M528.7,172.4 L531.0,144.5 L505.7,156.5" fill="none" stroke="#3998DB" stroke-width="2.3" stroke-dasharray="7.4 6.6" stroke-linejoin="miter"/>
<path d="M386.5,356.9 L496.2,139.3" fill="none" stroke="#66AA44" stroke-width="2.3" stroke-linecap="butt" stroke-linejoin="round"/>
<path d="M497.8,167.2 L496.2,139.3 L472.8,154.6" fill="none" stroke="#66AA44" stroke-width="2.3" stroke-linejoin="miter"/>
</g>
<rect x="368.0" y="70.2" width="313.0" height="26.8" fill="#d9d9d9"/>
<path d="M368.0,369.0 L368.0,70.2 L681.0,70.2 L681.0,369.0 Z" fill="none" stroke="#333" stroke-width="1.0"/>
<line x1="367.7" x2="681.3" y1="97.0" y2="97.0" stroke="#333" stroke-width="1.8"/>
<line x1="386.70" x2="386.70" y1="369.0" y2="374.0" stroke="#333" stroke-width="1.4"/>
<line x1="386.70" x2="386.70" y1="70.2" y2="65.2" stroke="#333" stroke-width="1.4"/>
<text x="386.70" y="387.8" font-family="Liberation Serif, serif" font-size="14.55" fill="#333" text-anchor="middle">1.00</text>
<text x="386.70" y="61.8" font-family="Liberation Serif, serif" font-size="14.55" fill="#333" text-anchor="middle">0.00</text>
<line x1="458.17" x2="458.17" y1="369.0" y2="374.0" stroke="#333" stroke-width="1.4"/>
<line x1="458.17" x2="458.17" y1="70.2" y2="65.2" stroke="#333" stroke-width="1.4"/>
<text x="458.17" y="387.8" font-family="Liberation Serif, serif" font-size="14.55" fill="#333" text-anchor="middle">0.75</text>
<text x="458.17" y="61.8" font-family="Liberation Serif, serif" font-size="14.55" fill="#333" text-anchor="middle">0.25</text>
<line x1="529.65" x2="529.65" y1="369.0" y2="374.0" stroke="#333" stroke-width="1.4"/>
<line x1="529.65" x2="529.65" y1="70.2" y2="65.2" stroke="#333" stroke-width="1.4"/>
<text x="529.65" y="387.8" font-family="Liberation Serif, serif" font-size="14.55" fill="#333" text-anchor="middle">0.50</text>
<text x="529.65" y="61.8" font-family="Liberation Serif, serif" font-size="14.55" fill="#333" text-anchor="middle">0.50</text>
<line x1="601.12" x2="601.12" y1="369.0" y2="374.0" stroke="#333" stroke-width="1.4"/>
<line x1="601.12" x2="601.12" y1="70.2" y2="65.2" stroke="#333" stroke-width="1.4"/>
<text x="601.12" y="387.8" font-family="Liberation Serif, serif" font-size="14.55" fill="#333" text-anchor="middle">0.25</text>
<text x="601.12" y="61.8" font-family="Liberation Serif, serif" font-size="14.55" fill="#333" text-anchor="middle">0.75</text>
<line x1="672.60" x2="672.60" y1="369.0" y2="374.0" stroke="#333" stroke-width="1.4"/>
<line x1="672.60" x2="672.60" y1="70.2" y2="65.2" stroke="#333" stroke-width="1.4"/>
<text x="672.60" y="387.8" font-family="Liberation Serif, serif" font-size="14.55" fill="#333" text-anchor="middle">0.00</text>
<text x="672.60" y="61.8" font-family="Liberation Serif, serif" font-size="14.55" fill="#333" text-anchor="middle">1.00</text>
<text x="524.5" y="88.6" font-family="Liberation Serif, serif" font-size="14.55" fill="#1a1a1a" text-anchor="middle">UnconstrainedCosts</text>
</g>
<line x1="40.0" x2="45.0" y1="353.90" y2="353.90" stroke="#333" stroke-width="1.4"/>
<text x="36.2" y="358.70" font-family="Liberation Serif, serif" font-size="14.55" fill="#333" text-anchor="end">0</text>
<line x1="40.0" x2="45.0" y1="296.38" y2="296.38" stroke="#333" stroke-width="1.4"/>
<text x="36.2" y="301.18" font-family="Liberation Serif, serif" font-size="14.55" fill="#333" text-anchor="end">5</text>
<line x1="40.0" x2="45.0" y1="238.85" y2="238.85" stroke="#333" stroke-width="1.4"/>
<text x="36.2" y="243.65" font-family="Liberation Serif, serif" font-size="14.55" fill="#333" text-anchor="end">10</text>
<line x1="40.0" x2="45.0" y1="181.32" y2="181.32" stroke="#333" stroke-width="1.4"/>
<text x="36.2" y="186.12" font-family="Liberation Serif, serif" font-size="14.55" fill="#333" text-anchor="end">15</text>
<line x1="40.0" x2="45.0" y1="123.80" y2="123.80" stroke="#333" stroke-width="1.4"/>
<text x="36.2" y="128.60" font-family="Liberation Serif, serif" font-size="14.55" fill="#333" text-anchor="end">20</text>
<text x="363" y="36.7" font-family="Liberation Serif, serif" font-size="18" fill="#000" text-anchor="middle">Converted/Lost genic standard deviation</text>
<text x="362.3" y="412.8" font-family="Liberation Serif, serif" font-size="18" fill="#000" text-anchor="middle">Genic standard deviation</text>
<text transform="translate(13.2,233) rotate(-90)" font-family="Liberation Serif, serif" font-size="18" fill="#000" text-anchor="middle">Genetic mean</text>
<line x1="99.2" x2="121.80000000000001" y1="5.1" y2="5.1" stroke="#000000" stroke-width="2"/>
<text x="127.7" y="10.1" font-family="Liberation Serif, serif" font-size="14.55" fill="#000">Conv</text>
<line x1="165.7" x2="188.29999999999998" y1="5.1" y2="5.1" stroke="#DC5428" stroke-width="2"/>
<text x="194.7" y="10.1" font-family="Liberation Serif, serif" font-size="14.55" fill="#000">ConvP</text>
<line x1="240.4" x2="263.0" y1="5.1" y2="5.1" stroke="#CC247D" stroke-width="2"/>
<text x="269.7" y="10.1" font-family="Liberation Serif, serif" font-size="14.55" fill="#000">ConvH</text>
<line x1="318.1" x2="340.70000000000005" y1="5.1" y2="5.1" stroke="#3998DB" stroke-width="2"/>
<text x="347.9" y="10.1" font-family="Liberation Serif, serif" font-size="14.55" fill="#000">TwoPartTS</text>
<line x1="419.8" x2="442.40000000000003" y1="5.1" y2="5.1" stroke="#3998DB" stroke-width="2" stroke-dasharray="7.2 6.5"/>
<text x="450.3" y="10.1" font-family="Liberation Serif, serif" font-size="14.55" fill="#000">TwoPartTS+</text>
<line x1="530.7" x2="553.3000000000001" y1="5.1" y2="5.1" stroke="#66AA44" stroke-width="2"/>
<text x="559" y="10.1" font-family="Liberation Serif, serif" font-size="14.55" fill="#000">TwoPartOCS</text>
</svg>
</body></html>
